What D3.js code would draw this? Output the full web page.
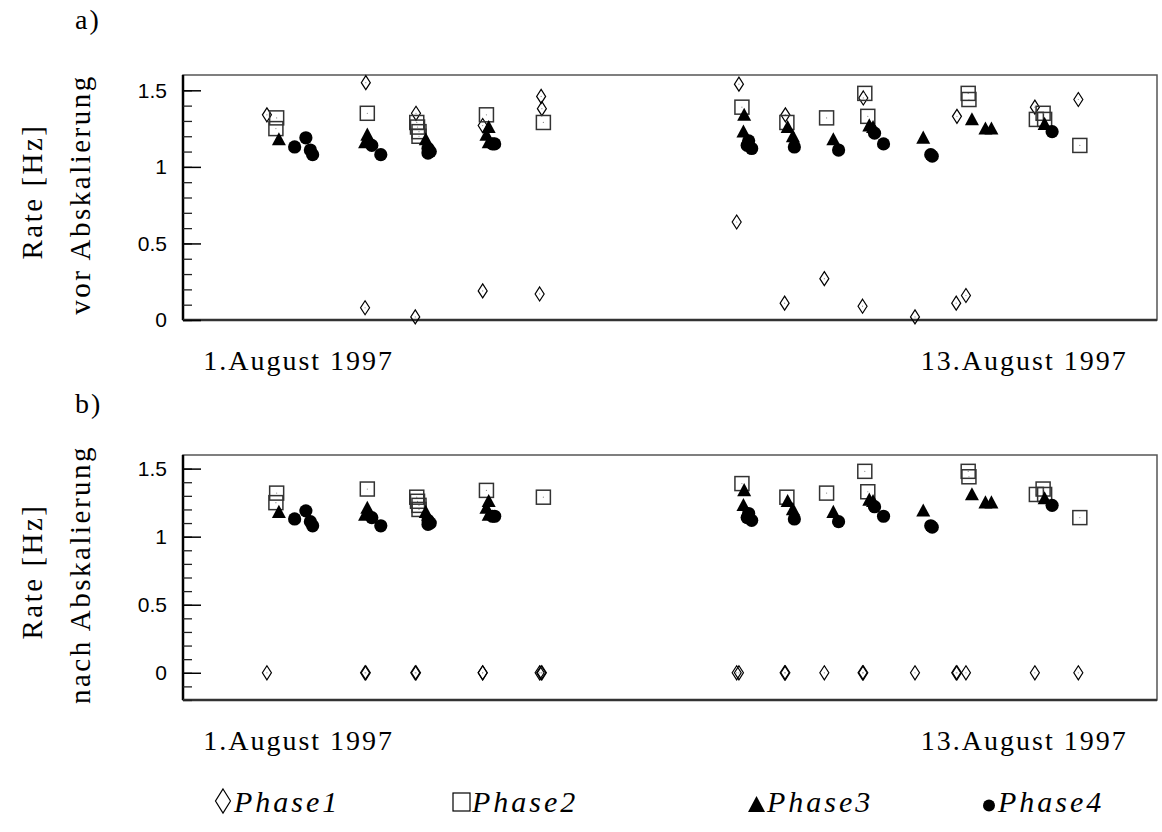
<html>
<head>
<script src="https://d3js.org/d3.v7.min.js"></script>
<style>
    body { margin: 0; background: white; }
    .serif { font-family: "Liberation Serif", "DejaVu Serif", serif; font-size: 28px; letter-spacing: 2px; fill: black; }
    .title { font-family: "Liberation Serif", "DejaVu Serif", serif; font-size: 29px; letter-spacing: 2.5px; fill: black; }
    .legend { font-family: "Liberation Serif", serif; font-style: italic; font-size: 30px; letter-spacing: 3px; }
    .tick text { font-family: "Liberation Sans", Arial, sans-serif; font-size: 21px; fill: black; }
</style>
</head>
<body>
<svg id="chart" width="1162" height="832"></svg>
<script>
    // days after 1 August 1997 and rates [Hz]
    const p1Day = [1.12, 2.44, 2.43, 3.11, 3.10, 4.00, 4.00, 4.78, 4.79, 4.76, 7.42, 7.39, 8.04, 8.03, 8.56, 9.08, 9.07, 9.77, 10.33, 10.32, 10.45, 11.37, 11.95];
    const p1RateA = [1.34, 1.55, 0.08, 1.35, 0.02, 1.27, 0.19, 1.46, 1.38, 0.17, 1.54, 0.64, 1.34, 0.11, 0.27, 1.45, 0.09, 0.02, 1.33, 0.11, 0.16, 1.39, 1.44];
    const p1RateB = [0, 0, 0, 0, 0, 0, 0, 0, 0, 0, 0, 0, 0, 0, 0, 0, 0, 0, 0, 0, 0, 0, 0];

    const p2Day = [1.25, 1.24, 2.46, 3.12, 3.13, 3.15, 3.15, 4.05, 4.81, 7.46, 8.06, 8.59, 9.10, 9.14, 10.48, 10.49, 11.39, 11.48, 11.50, 11.97];
    const p2Rate = [1.32, 1.25, 1.35, 1.29, 1.26, 1.23, 1.20, 1.34, 1.29, 1.39, 1.29, 1.32, 1.48, 1.33, 1.48, 1.44, 1.31, 1.35, 1.31, 1.14];

    const p3Day = [1.28, 2.46, 2.43, 3.24, 4.08, 4.05, 4.08, 7.49, 7.48, 8.07, 8.14, 8.68, 9.16, 9.21, 9.88, 10.53, 10.71, 10.79, 11.50];
    const p3Rate = [1.17, 1.20, 1.15, 1.17, 1.25, 1.20, 1.15, 1.33, 1.22, 1.25, 1.19, 1.17, 1.26, 1.25, 1.18, 1.30, 1.24, 1.24, 1.27];

    const p4Day = [1.49, 1.64, 1.70, 1.73, 2.52, 2.64, 3.27, 3.30, 3.27, 4.16, 4.13, 7.55, 7.59, 7.53, 8.16, 8.75, 9.23, 9.35, 9.98, 10.00, 11.60];
    const p4Rate = [1.13, 1.19, 1.11, 1.08, 1.14, 1.08, 1.12, 1.10, 1.09, 1.15, 1.15, 1.17, 1.12, 1.14, 1.13, 1.11, 1.22, 1.15, 1.08, 1.07, 1.23];

    const yMajor = [0, 0.5, 1, 1.5];
    const dateLabels = ["1.August 1997", "13.August 1997"];
    const dateLabelDay = [0.27, 12.61];
    const legendNames = ["Phase1", "Phase2", "Phase3", "Phase4"];

    const svg = d3.select("#chart");
    const left = 183, right = 1157;
    const x = d3.scaleLinear().domain([0, 13]).range([left, right]);

    const zip = (a, b) => a.map((d, i) => [d, b[i]]);

    const panels = [
        { tag: "a)", tagY: 29, top: 75, bottom: 320, dom: [0, 1.6], line2: "vor Abskalierung", p1: p1RateA },
        { tag: "b)", tagY: 413, top: 455, bottom: 700, dom: [-0.2, 1.6], line2: "nach Abskalierung", p1: p1RateB }
    ];

    const diamond = (w, h) => `M0,${-h}L${w},0L0,${h}L${-w},0Z`;
    const tri = "M0,-8.7L7,4.4L-7,4.4Z";

    panels.forEach(p => {
        const y = d3.scaleLinear().domain(p.dom).range([p.bottom, p.top]);
        const g = svg.append("g");
        const mid = (p.top + p.bottom) / 2;

        svg.append("text").attr("class", "serif").attr("x", 75).attr("y", p.tagY).text(p.tag);

        // axis titles
        svg.append("text").attr("class", "title")
            .attr("transform", `translate(42,${mid - 6}) rotate(-90)`)
            .attr("text-anchor", "middle").text("Rate [Hz]");
        svg.append("text").attr("class", "title")
            .attr("transform", `translate(90,${mid - 3}) rotate(-90)`)
            .attr("text-anchor", "middle").text(p.line2);

        // frame
        g.append("rect").attr("x", left).attr("y", p.top)
            .attr("width", right - left).attr("height", p.bottom - p.top)
            .attr("fill", "none").attr("stroke", "#555").attr("stroke-width", 1.5);
        g.append("line").attr("x1", left).attr("x2", left).attr("y1", p.top).attr("y2", p.bottom)
            .attr("stroke", "black").attr("stroke-width", 2.5);
        g.append("line").attr("x1", left).attr("x2", right).attr("y1", p.bottom).attr("y2", p.bottom)
            .attr("stroke", "#333").attr("stroke-width", 2.5);

        // ticks
        const minor = d3.range(Math.round(p.dom[0] * 10), 16).map(d => d / 10);
        g.append("g").attr("transform", `translate(${left},0)`)
            .call(d3.axisRight(y).tickValues(minor).tickSize(9).tickFormat(""))
            .call(a => a.select(".domain").remove())
            .selectAll("line").attr("stroke", "#222").attr("stroke-width", 1.3);
        g.append("g").attr("transform", `translate(${left},0)`)
            .call(d3.axisRight(y).tickValues(yMajor).tickSize(18).tickFormat(""))
            .call(a => a.select(".domain").remove())
            .selectAll("line").attr("stroke", "black").attr("stroke-width", 1.5);
        g.append("g").attr("transform", `translate(${left},0)`)
            .call(d3.axisLeft(y).tickValues(yMajor).tickSize(0).tickPadding(16).tickFormat(d3.format("")))
            .call(a => a.select(".domain").remove());

        // date labels
        dateLabels.forEach((t, i) => {
            svg.append("text").attr("class", "serif")
                .attr("x", x(dateLabelDay[i])).attr("y", p.bottom + 50)
                .attr("text-anchor", i === 0 ? "start" : "end").text(t);
        });

        // Phase1 diamonds
        const d1 = g.selectAll(".p1").data(zip(p1Day, p.p1)).join("g")
            .attr("transform", d => `translate(${x(d[0])},${y(d[1])})`);
        d1.append("path").attr("d", diamond(4.5, 7)).attr("fill", "none")
            .attr("stroke", "black").attr("stroke-width", 1.2);
        d1.append("circle").attr("r", 0.6).attr("fill", "#888");

        // Phase2 squares
        const d2 = g.selectAll(".p2").data(zip(p2Day, p2Rate)).join("g")
            .attr("transform", d => `translate(${x(d[0])},${y(d[1])})`);
        d2.append("rect").attr("x", -7).attr("y", -7).attr("width", 14).attr("height", 14)
            .attr("fill", "none").attr("stroke", "#333").attr("stroke-width", 1.5);
        d2.append("circle").attr("r", 0.6).attr("fill", "#888");

        // Phase3 triangles
        g.selectAll(".p3").data(zip(p3Day, p3Rate)).join("path")
            .attr("d", tri).attr("fill", "black")
            .attr("transform", d => `translate(${x(d[0])},${y(d[1])})`);

        // Phase4 circles
        g.selectAll(".p4").data(zip(p4Day, p4Rate)).join("circle")
            .attr("cx", d => x(d[0])).attr("cy", d => y(d[1])).attr("r", 6.6).attr("fill", "black");
    });

    // legend
    const legX = [215, 453, 748, 983];
    const leg = svg.append("g");
    leg.append("path").attr("d", diamond(7.5, 12)).attr("transform", `translate(${legX[0] + 8},801)`)
        .attr("fill", "none").attr("stroke", "black").attr("stroke-width", 1.2);
    leg.append("rect").attr("x", legX[1]).attr("y", 793).attr("width", 17).attr("height", 18)
        .attr("fill", "none").attr("stroke", "black").attr("stroke-width", 1.2);
    leg.append("path").attr("d", "M0,-10L8.5,6L-8.5,6Z").attr("transform", `translate(${legX[2] + 8.5},806)`)
        .attr("fill", "black");
    leg.append("circle").attr("cx", legX[3] + 6).attr("cy", 805.5).attr("r", 6).attr("fill", "black");
    legendNames.forEach((t, i) => {
        leg.append("text").attr("class", "legend")
            .attr("x", legX[i] + (i === 3 ? 15 : 19)).attr("y", 812).text(t);
    });
</script>
</body>
</html>
